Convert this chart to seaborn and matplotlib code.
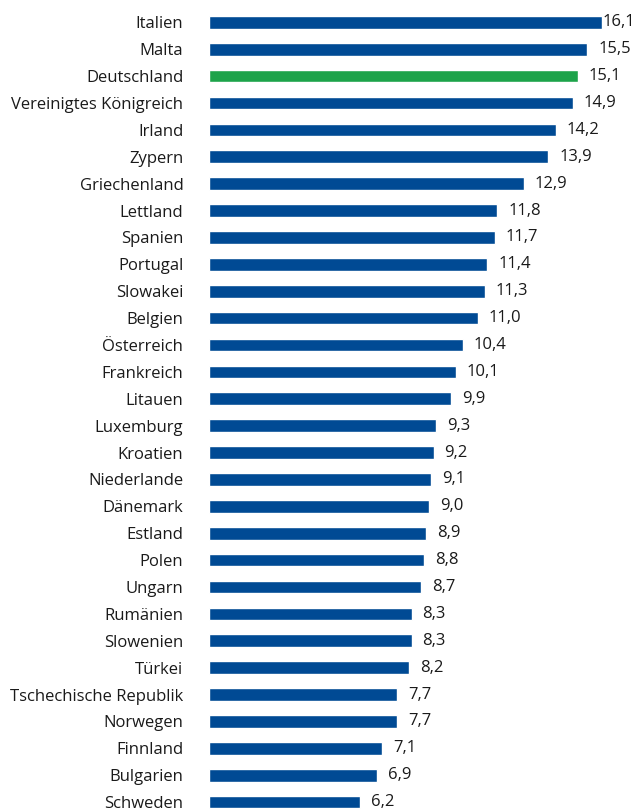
import numpy as np
import pandas as pd
import seaborn as sns
import matplotlib.pyplot as plt

laender = ["Italien", "Malta", "Deutschland", "Vereinigtes Königreich", "Irland",
           "Zypern", "Griechenland", "Lettland", "Spanien", "Portugal", "Slowakei",
           "Belgien", "Österreich", "Frankreich", "Litauen", "Luxemburg", "Kroatien",
           "Niederlande", "Dänemark", "Estland", "Polen", "Ungarn", "Rumänien",
           "Slowenien", "Türkei", "Tschechische Republik", "Norwegen", "Finnland",
           "Bulgarien", "Schweden"]
werte = [16.1, 15.5, 15.1, 14.9, 14.2, 13.9, 12.9, 11.8, 11.7, 11.4, 11.3,
         11.0, 10.4, 10.1, 9.9, 9.3, 9.2, 9.1, 9.0, 8.9, 8.8, 8.7, 8.3,
         8.3, 8.2, 7.7, 7.7, 7.1, 6.9, 6.2]
hervorheben = "Deutschland"

blau = "#004a94"
gruen = "#1da34a"
text_farbe = "#1a1a1a"

df = pd.DataFrame({"land": laender, "wert": werte})
df["gruppe"] = np.where(df["land"] == hervorheben, "de", "andere")

sns.set_style("white")
plt.rcParams["font.family"] = ["Open Sans", "DejaVu Sans"]

fig = plt.figure(figsize=(6.35, 8.11), dpi=100)
W, H = 635, 811
links, oben, unten = 209, 8.9, 811
ax = fig.add_axes([links / W, 0, (W - links) / W, (unten - oben) / H])

sns.barplot(data=df, x="wert", y="land", hue="gruppe", orient="h",
            palette={"andere": blau, "de": gruen}, width=0.47,
            dodge=False, legend=False, saturation=1, ax=ax)

ax.set_xlim(0, 17.45)
ax.set_ylim(29.33, -0.5)
sns.despine(ax=ax, left=True, bottom=True)
ax.set_xticks([])
ax.set_xlabel("")
ax.set_ylabel("")
ax.tick_params(axis="y", length=0, pad=18.5, labelsize=12, labelcolor=text_farbe)

# Werte rechts neben den Balken, mit Komma
for i, v in enumerate(werte):
    abstand = 0.03 if v > 16 else 0.45
    ax.text(v + abstand, i, f"{v:.1f}".replace(".", ","), va="center", ha="left",
            fontsize=12, color=text_farbe)

fig.savefig("out.png", dpi=100)
